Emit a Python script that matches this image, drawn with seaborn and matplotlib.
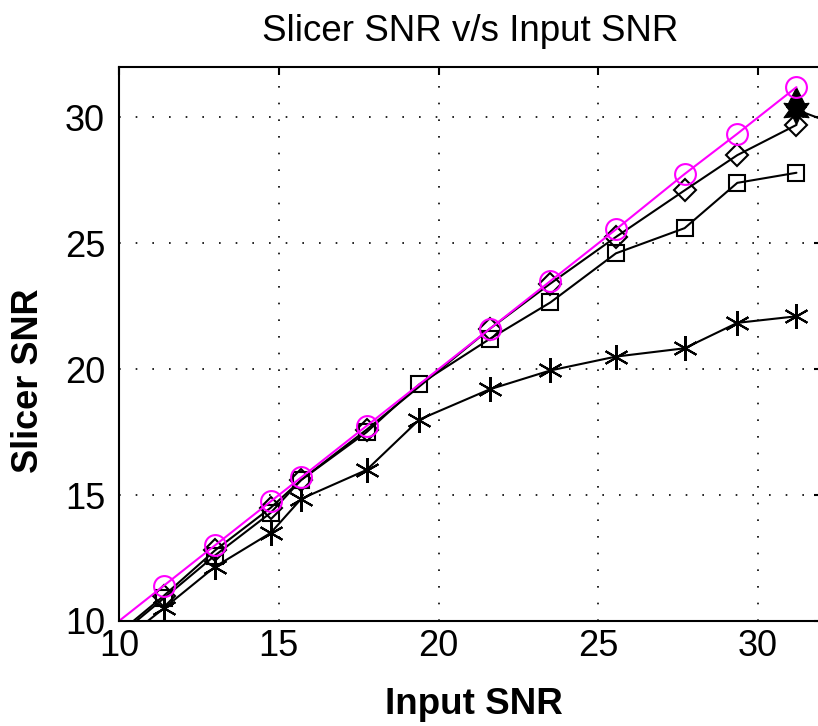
import matplotlib
matplotlib.use("Agg")
import matplotlib.pyplot as plt
import pandas as pd
import seaborn as sns

# ---- data ----
ideal_x = [9.5, 11.4, 13.0, 14.75, 15.7, 17.75, 21.6, 23.5, 25.55, 27.7, 29.35, 31.2]
ideal_y = [9.5, 11.4, 13.0, 14.75, 15.7, 17.75, 21.6, 23.5, 25.55, 27.75, 29.35, 31.2]

diamond_x = [9.5, 11.4, 13.0, 14.75, 15.7, 17.75, 21.6, 23.5, 25.55, 27.7, 29.35, 31.2]
diamond_y = [9.0, 11.0, 12.8, 14.5, 15.6, 17.6, 21.6, 23.4, 25.25, 27.1, 28.5, 29.7]

square_x = [9.5, 11.4, 13.0, 14.75, 15.7, 17.75, 19.4, 21.6, 23.5, 25.55, 27.7, 29.35, 31.2]
square_y = [8.9, 10.9, 12.6, 14.3, 15.6, 17.5, 19.4, 21.2, 22.65, 24.6, 25.6, 27.4, 27.8]

star_x = [9.5, 11.4, 13.0, 14.75, 15.7, 17.75, 19.4, 21.6, 23.5, 25.55, 27.7, 29.35, 31.2]
star_y = [8.6, 10.5, 12.15, 13.5, 14.85, 16.0, 18.0, 19.2, 19.95, 20.5, 20.83, 21.84, 22.1]

hex_x = [31.2, 33.0]
hex_y = [30.3, 29.45]

tri_x = [31.2]
tri_y = [30.8]

x_ticks = [10, 15, 20, 25, 30]
y_ticks = [10, 15, 20, 25, 30]

title = "Slicer SNR v/s Input SNR"
xlabel = "Input SNR"
ylabel = "Slicer SNR"

# ---- figure ----
sns.set_style("white")
plt.rcParams['font.family'] = ['Liberation Sans', 'DejaVu Sans']
plt.rcParams['text.color'] = 'black'
plt.rcParams['axes.labelcolor'] = 'black'

W, H = 818, 726
fig = plt.figure(figsize=(W / 100, H / 100), dpi=100)
ax = fig.add_axes([119 / W, 105 / H, 703 / W, 554 / H])

lw = 1.5
common = dict(ax=ax, sort=False, estimator=None, legend=False)

sns.lineplot(x=square_x, y=square_y, color='black', lw=lw, marker='s',
             markersize=11, markerfacecolor='none', markeredgecolor='black',
             markeredgewidth=1.5, **common)
sns.lineplot(x=star_x, y=star_y, color='black', lw=lw, marker=(6, 2, 0),
             markersize=18, markeredgecolor='black', markeredgewidth=1.5, **common)
sns.lineplot(x=diamond_x, y=diamond_y, color='black', lw=lw, marker='D',
             markersize=11, markerfacecolor='none', markeredgecolor='black',
             markeredgewidth=1.5, **common)
sns.lineplot(x=hex_x, y=hex_y, color='black', lw=lw, marker=(6, 1, 0),
             markersize=21, markerfacecolor='black', markeredgecolor='black', **common)
sns.lineplot(x=tri_x, y=tri_y, color='black', lw=lw, marker='^',
             markersize=14, markerfacecolor='black', markeredgecolor='black', **common)
sns.lineplot(x=ideal_x, y=ideal_y, color='#FF00FF', lw=lw, marker='o',
             markersize=15, markerfacecolor='none', markeredgecolor='#FF00FF',
             markeredgewidth=1.5, **common)

ax.set_xlim(10, 32)
ax.set_ylim(10, 32)
ax.set_xticks(x_ticks)
ax.set_yticks(y_ticks)
ax.grid(True, color='black', linestyle=(0, (1, 9)), linewidth=1.2)
for s in ax.spines.values():
    s.set_visible(True)
    s.set_color('black')
    s.set_linewidth(1.5)
ax.tick_params(direction='in', length=6, width=1.5, top=True, right=True,
               labelsize=26, pad=6, colors='black')
ax.tick_params(axis='y', pad=10)

ax.set_title(title, fontsize=26.5, pad=19, color='black')
ax.set_xlabel(xlabel, fontsize=26.5, fontweight='bold')
ax.set_ylabel(ylabel, fontsize=26, fontweight='bold')
ax.xaxis.label.set_va('center')
ax.yaxis.label.set_va('center')
ax.xaxis.set_label_coords((473.5 - 119) / 703, (621 - 704) / 554)
ax.yaxis.set_label_coords((29 - 119) / 703, (621 - 381) / 554)

fig.savefig("out.png", dpi=100)
